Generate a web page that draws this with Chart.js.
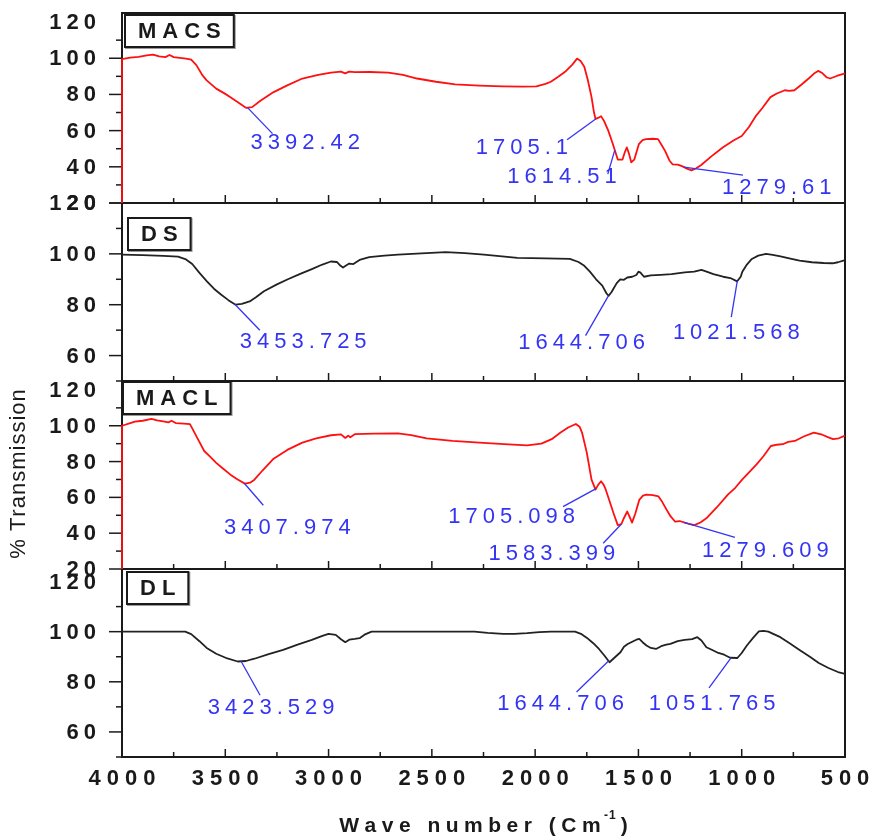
<!DOCTYPE html>
<html>
<head>
<meta charset="utf-8">
<title>FTIR spectra</title>
<script src="https://cdn.jsdelivr.net/npm/chart.js@4.4.1/dist/chart.umd.min.js"></script>
<style>
    html, body { margin: 0; padding: 0; background: #fff; }
    #wrap { width: 870px; height: 840px; }
</style>
</head>
<body>
<div id="wrap"><canvas id="ftir" width="870" height="840"></canvas></div>
<script>
// wavenumber (cm-1) and % transmission for each sample
const macsWave = [4000, 4000, 3960, 3920, 3880, 3850, 3820, 3790, 3770, 3750, 3720, 3690, 3665, 3640, 3610, 3590, 3544, 3500, 3475, 3430, 3400, 3370, 3330, 3266, 3200, 3127, 3050, 2988, 2940, 2920, 2900, 2873, 2800, 2711, 2640, 2572, 2480, 2387, 2270, 2156, 2060, 1994, 1950, 1924, 1890, 1855, 1820, 1797, 1780, 1762, 1745, 1727, 1715, 1708, 1695, 1681, 1665, 1646, 1625, 1600, 1577, 1566, 1556, 1545, 1535, 1520, 1498, 1480, 1463, 1430, 1405, 1390, 1371, 1350, 1335, 1310, 1289, 1265, 1243, 1220, 1196, 1150, 1092, 1040, 1000, 965, 930, 900, 861, 830, 791, 770, 745, 710, 676, 650, 630, 610, 590, 572, 540, 500];
const macsTrans = [20, 99.5, 100.3, 100.8, 101.6, 102.0, 101.0, 100.6, 101.8, 100.6, 100.2, 99.8, 99.2, 96.2, 90.5, 87.8, 83.2, 80.3, 78.5, 75, 72.6, 73, 76.5, 81.3, 85, 88.8, 90.8, 92, 92.6, 91.6, 92.6, 92.3, 92.4, 92, 90.8, 88.8, 87, 85.6, 84.9, 84.5, 84.3, 84.5, 85.8, 87, 89.6, 92.5, 96.5, 99.8, 98.5, 95.3, 88, 78.5, 70, 66.5, 67, 68, 65, 60, 53, 44, 44, 48, 50.7, 47, 42.5, 44, 52.5, 54.8, 55.3, 55.5, 55.3, 52.5, 48.8, 43.5, 41.4, 41.2, 40.4, 39, 38, 39.2, 41, 45.5, 50.7, 54.5, 57, 62, 68.3, 72.5, 78.5, 80.5, 82.3, 82, 82.3, 85.5, 88.8, 91.5, 93, 91.8, 89.5, 88.8, 90.2, 91.6];

const dsWave = [4000, 3900, 3800, 3729, 3690, 3660, 3625, 3590, 3555, 3521, 3485, 3450, 3420, 3382, 3350, 3313, 3250, 3197, 3140, 3081, 3030, 2989, 2960, 2942, 2930, 2919, 2900, 2880, 2850, 2803, 2730, 2664, 2550, 2433, 2340, 2248, 2160, 2086, 1950, 1832, 1790, 1762, 1735, 1705, 1675, 1655, 1644, 1630, 1623, 1605, 1588, 1570, 1554, 1530, 1510, 1500, 1490, 1473, 1440, 1392, 1340, 1276, 1230, 1195, 1170, 1137, 1090, 1055, 1022, 1005, 997, 975, 951, 920, 882, 850, 812, 770, 720, 660, 604, 560, 534, 500];
const dsTrans = [99.7, 99.5, 99.2, 98.9, 97.8, 96, 92.5, 89.3, 86.3, 84, 81.8, 80, 80.3, 81.3, 83, 85.3, 88, 90, 92, 94, 95.8, 97, 96.8, 95.3, 94.6, 95.2, 96.2, 96, 97.6, 98.7, 99.3, 99.7, 100.2, 100.7, 100.3, 99.7, 99, 98.4, 98.2, 98, 96.8, 95.3, 93, 90, 87.5, 84.5, 83.5, 85, 86, 88.5, 90, 89.8, 90.7, 91, 91.7, 93, 92.6, 91, 91.5, 91.7, 92, 92.7, 93, 93.7, 93, 92, 91, 90.5, 89.2, 91, 93, 95.8, 98, 99.3, 100, 99.6, 99, 98.2, 97.3, 96.7, 96.4, 96.3, 96.7, 97.5];

const maclWave = [4000, 4000, 3960, 3938, 3900, 3857, 3830, 3800, 3775, 3760, 3740, 3700, 3671, 3660, 3630, 3602, 3570, 3544, 3510, 3475, 3440, 3405, 3380, 3359, 3320, 3266, 3200, 3127, 3060, 2988, 2940, 2919, 2905, 2895, 2873, 2780, 2664, 2600, 2525, 2400, 2270, 2150, 2039, 1970, 1920, 1877, 1840, 1803, 1785, 1773, 1750, 1727, 1708, 1695, 1681, 1668, 1658, 1640, 1620, 1600, 1583, 1570, 1554, 1542, 1531, 1515, 1496, 1478, 1461, 1430, 1403, 1385, 1368, 1345, 1322, 1300, 1276, 1250, 1229, 1200, 1171, 1120, 1067, 1030, 998, 960, 928, 895, 859, 830, 801, 775, 743, 700, 651, 610, 580, 558, 530, 500];
const maclTrans = [20, 100, 101.5, 102.3, 102.8, 103.8, 103, 102.5, 101.9, 102.8, 101.5, 101.2, 100.9, 98.5, 92, 85.9, 82.3, 79.3, 76, 72.7, 70, 67.7, 68.2, 69.9, 75, 81.6, 86.5, 90.6, 93, 94.7, 95.2, 93.2, 94.5, 93.6, 95.3, 95.6, 95.7, 94.8, 92.9, 91.6, 90.6, 89.8, 89.1, 90, 92.5, 96.2, 99, 101, 99.5, 96.2, 85, 69.9, 64.3, 67, 69, 67, 64.3, 58, 51, 44.5, 45, 48.5, 52.1, 49, 45.9, 51, 58.6, 61, 61.5, 61.3, 60.5, 57.5, 54, 49.5, 46.4, 46.8, 45.9, 45, 44.5, 46, 48.3, 54.5, 61.5, 65.5, 69.9, 74.5, 78.4, 83, 88.7, 89.4, 89.7, 91, 91.5, 94, 96.2, 95, 93.5, 92.5, 93, 94.5];

const dlWave = [4000, 3800, 3694, 3665, 3625, 3590, 3544, 3490, 3440, 3400, 3359, 3290, 3220, 3150, 3081, 3030, 3000, 2965, 2940, 2919, 2900, 2873, 2850, 2826, 2792, 2500, 2294, 2230, 2155, 2100, 2039, 1980, 1923, 1807, 1775, 1749, 1720, 1691, 1665, 1640, 1615, 1587, 1570, 1552, 1530, 1510, 1496, 1480, 1461, 1440, 1415, 1390, 1365, 1345, 1310, 1276, 1240, 1215, 1195, 1171, 1140, 1113, 1085, 1056, 1021, 1000, 975, 945, 917, 895, 871, 845, 813, 770, 720, 670, 627, 580, 534, 500];
const dlTrans = [100, 100, 100, 99, 96.2, 93.5, 91.2, 89.3, 88.1, 88.3, 89.2, 91, 92.7, 94.8, 96.7, 98.3, 99.1, 98.7, 97, 95.8, 96.8, 97.1, 97.4, 98.8, 100, 100, 100, 99.5, 99.1, 99.1, 99.4, 99.8, 100, 100, 99, 97.5, 95.5, 93.1, 90.5, 87.8, 89.7, 91.8, 94, 95.1, 96, 96.8, 97.1, 95.8, 94.5, 93.5, 93.1, 94.2, 94.8, 95.1, 96.2, 96.7, 97, 97.8, 96.5, 93.8, 92.6, 91.5, 90.8, 89.6, 89.5, 91.5, 94.5, 97.5, 100.1, 100.3, 100, 99, 97.8, 95.5, 92.7, 90, 87.5, 85.5, 83.9, 83.2];

// marked band positions (cm-1)
const macsPeaks = ['3392.42', '1705.1', '1614.51', '1279.61'];
const dsPeaks = ['3453.725', '1644.706', '1021.568'];
const maclPeaks = ['3407.974', '1705.098', '1583.399', '1279.609'];
const dlPeaks = ['3423.529', '1644.706', '1051.765'];

// axis labels
const waveLabels = [4000, 3500, 3000, 2500, 2000, 1500, 1000, 500];
const wideTicks = [20, 40, 60, 80, 100, 120];
const narrowTicks = [60, 80, 100, 120];

const RED = '#ff1010';
const DARK = '#222222';
const INK = '#1a1a1a';
const BLUE = '#3434f4';
const FONT = "'Liberation Sans', Arial, sans-serif";

// one stacked panel per sample; callouts: [lineDx, lineDy, textDx, textDy, align]
const panels = [
    { key: 'yMacs', name: 'MACS', wave: macsWave, trans: macsTrans, min: 20, max: 125, height: 190,
      labels: wideTicks, color: RED, box: [3, 2], peaks: macsPeaks,
      callouts: [[25, 26, 3, 35, 'left'], [-29, 21, -28, 29, 'right'], [-7, 24, 2, 27, 'right'], [59, 8, 38, 21, 'left']] },
    { key: 'yDs', name: 'DS', wave: dsWave, trans: dsTrans, min: 50, max: 120, height: 178,
      labels: narrowTicks, color: DARK, box: [6, 15], peaks: dsPeaks,
      callouts: [[25, 26, 5, 38, 'left'], [-23, 40, -27, 47, 'center'], [-6, 36, -1, 52, 'center']] },
    { key: 'yMacl', name: 'MACL', wave: maclWave, trans: maclTrans, min: 20, max: 125, height: 188,
      labels: wideTicks, color: RED, box: [1, 1], peaks: maclPeaks,
      callouts: [[19, 22, 43, 45, 'center'], [-33, 18, -21, 28, 'right'], [-18, 19, -6, 30, 'right'], [51, 15, 18, 29, 'left']] },
    { key: 'yDl', name: 'DL', wave: dlWave, trans: dlTrans, min: 50, max: 125, height: 188,
      labels: narrowTicks, color: DARK, box: [5, 3], peaks: dlPeaks,
      callouts: [[19, 34, 30, 47, 'center'], [-32, 31, -48, 43, 'center'], [-22, 30, -19, 46, 'center']] },
];

function spacedText(ctx, text, x, y, gap, align) {
    const chars = [...text];
    const widths = chars.map(c => ctx.measureText(c).width);
    const total = widths.reduce((a, b) => a + b, 0) + gap * (chars.length - 1);
    let cx = align === 'right' ? x - total : align === 'center' ? x - total / 2 : x;
    ctx.textAlign = 'left';
    chars.forEach((c, i) => {
        ctx.fillText(c, cx, y);
        cx += widths[i] + gap;
    });
    return total;
}

function transAt(p, wn) {
    for (let i = 0; i < p.wave.length - 1; i++) {
        const a = p.wave[i], b = p.wave[i + 1];
        if (a >= wn && wn >= b && a !== b) {
            const t = (a - wn) / (a - b);
            return p.trans[i] + t * (p.trans[i + 1] - p.trans[i]);
        }
    }
    return p.trans[p.trans.length - 1];
}

const frames = {
    id: 'frames',
    beforeDatasetsDraw(chart) {
        const { ctx, chartArea: area, scales } = chart;
        const xs = scales.x;
        ctx.save();
        ctx.strokeStyle = INK;
        ctx.fillStyle = INK;
        ctx.textBaseline = 'middle';

        panels.forEach(p => {
            const ys = scales[p.key];
            ctx.lineWidth = 2;
            ctx.strokeRect(area.left, ys.top, area.right - area.left, ys.bottom - ys.top);

            // y ticks: long at labelled values, short in between
            ctx.lineWidth = 1.5;
            ys.ticks.forEach(t => {
                if (t.value % 10 !== 0) return;
                const y = ys.getPixelForValue(t.value);
                const len = p.labels.includes(t.value) ? 13 : 6;
                ctx.beginPath();
                ctx.moveTo(area.left - len, y);
                ctx.lineTo(area.left, y);
                ctx.stroke();
            });

            // x ticks rising from each panel's floor
            xs.ticks.forEach(t => {
                if (t.value <= xs.min || t.value >= xs.max) return;
                const x = xs.getPixelForValue(t.value);
                const len = t.value % 500 === 0 ? 8 : 5;
                ctx.beginPath();
                ctx.moveTo(x, ys.bottom);
                ctx.lineTo(x, ys.bottom - len);
                ctx.stroke();
            });

            ctx.font = 'bold 22px ' + FONT;
            p.labels.forEach(v => {
                spacedText(ctx, String(v), 96, ys.getPixelForValue(v) + 1, 5, 'right');
            });

            // sample name in a framed box
            const chars = [...p.name];
            const tw = chars.reduce((s, c) => s + ctx.measureText(c).width, 0) + 6 * (chars.length - 1);
            const bx = area.left + p.box[0], by = ys.top + p.box[1];
            const bw = tw + 26, bh = 32;
            ctx.lineWidth = 2;
            ctx.strokeStyle = '#999';
            ctx.strokeRect(bx + 1, by + 1, bw, bh);
            ctx.strokeStyle = INK;
            ctx.fillStyle = '#fff';
            ctx.fillRect(bx, by, bw, bh);
            ctx.strokeRect(bx, by, bw, bh);
            ctx.fillStyle = INK;
            spacedText(ctx, p.name, bx + bw / 2, by + bh / 2 + 1, 6, 'center');
        });

        // wavenumber labels under the last panel
        ctx.font = 'bold 22px ' + FONT;
        waveLabels.forEach(v => {
            spacedText(ctx, String(v), xs.getPixelForValue(v), area.bottom + 22, 6, 'center');
        });

        // x title with superscript
        const cx = (area.left + area.right) / 2, ty = area.bottom + 69;
        const gap = 5.5;
        ctx.font = 'bold 21px ' + FONT;
        const main = 'Wave number (Cm';
        const mainW = [...main].reduce((s, c) => s + ctx.measureText(c).width, 0) + gap * main.length;
        ctx.font = 'bold 12px ' + FONT;
        const supW = ctx.measureText('-1').width + 4;
        ctx.font = 'bold 21px ' + FONT;
        const closeW = ctx.measureText(')').width;
        let sx = cx - (mainW + supW + closeW) / 2;
        spacedText(ctx, main, sx, ty, gap, 'left');
        sx += mainW;
        ctx.font = 'bold 12px ' + FONT;
        spacedText(ctx, '-1', sx - 2, ty - 10, 1, 'left');
        ctx.font = 'bold 21px ' + FONT;
        spacedText(ctx, ')', sx + supW, ty, 0, 'left');

        // y title
        ctx.save();
        ctx.translate(19, 474);
        ctx.rotate(-Math.PI / 2);
        ctx.font = '22px ' + FONT;
        spacedText(ctx, '% Transmission', 0, 0, 1, 'center');
        ctx.restore();

        ctx.restore();
    },
    afterDatasetsDraw(chart) {
        const { ctx, scales } = chart;
        const xs = scales.x;
        ctx.save();
        ctx.strokeStyle = BLUE;
        ctx.fillStyle = BLUE;
        ctx.lineWidth = 1.3;
        ctx.textBaseline = 'middle';
        ctx.font = '22px ' + FONT;
        panels.forEach(p => {
            const ys = scales[p.key];
            p.peaks.forEach((label, i) => {
                const wn = parseFloat(label);
                const [ldx, ldy, tdx, tdy, align] = p.callouts[i];
                const ax = xs.getPixelForValue(wn);
                const ay = ys.getPixelForValue(transAt(p, wn));
                ctx.beginPath();
                ctx.moveTo(ax, ay);
                ctx.lineTo(ax + ldx, ay + ldy);
                ctx.stroke();
                spacedText(ctx, label, ax + tdx, ay + tdy, 5, align);
            });
        });
        ctx.restore();
    }
};

const scales = {
    x: {
        type: 'linear', min: 500, max: 4000, reverse: true,
        ticks: { display: false, stepSize: 250 },
        grid: { display: false, drawTicks: false }, border: { display: false },
    },
};
const totalHeight = panels.reduce((s, p) => s + p.height, 0);
panels.forEach((p, i) => {
    scales[p.key] = {
        type: 'linear', position: 'left', stack: 'ftir',
        stackWeight: p.height / totalHeight, weight: panels.length - i,
        min: p.min, max: p.max,
        ticks: { display: false, stepSize: 10 },
        grid: { display: false, drawTicks: false }, border: { display: false },
    };
});

new Chart(document.getElementById('ftir'), {
    type: 'line',
    data: {
        datasets: panels.map(p => ({
            label: p.name,
            yAxisID: p.key,
            data: p.wave.map((w, i) => ({ x: w, y: p.trans[i] })),
            borderColor: p.color,
            borderWidth: 1.8,
            borderJoinStyle: 'round',
            pointRadius: 0,
            tension: 0,
            fill: false,
            clip: false,
        })),
    },
    options: {
        responsive: false,
        animation: false,
        layout: { padding: { left: 122, right: 25, top: 13, bottom: 83 } },
        plugins: { legend: { display: false }, tooltip: { enabled: false } },
        scales,
    },
    plugins: [frames],
});
</script>
</body>
</html>
